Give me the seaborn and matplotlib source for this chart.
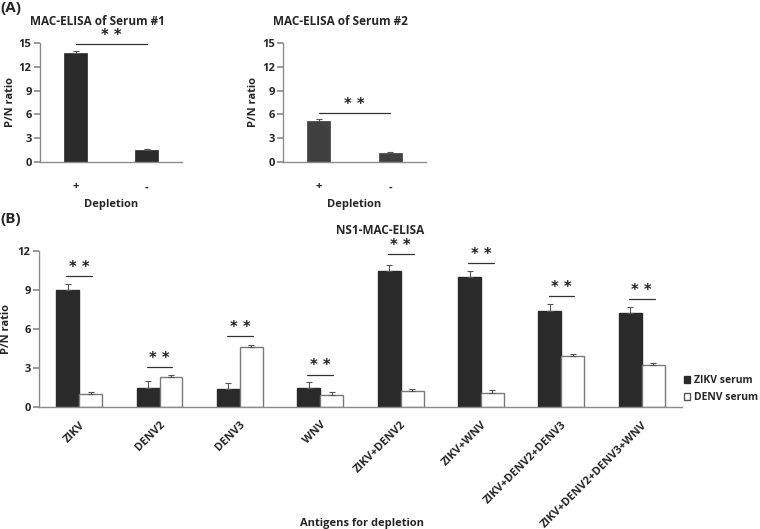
import numpy as np
import pandas as pd
import seaborn as sns
import matplotlib.pyplot as plt
from matplotlib.patches import Patch

# panel A data
depletion = ["+", "-"]
serum1_vals = [13.75, 1.45]
serum1_err = [0.25, 0.15]
serum2_vals = [5.2, 1.1]
serum2_err = [0.2, 0.2]
sig_a = [14.9, 6.2]

# panel B data
antigens = ["ZIKV", "DENV2", "DENV3", "WNV", "ZIKV+DENV2", "ZIKV+WNV",
            "ZIKV+DENV2+DENV3", "ZIKV+DENV2+DENV3+WNV"]
zikv_vals = [9.0, 1.5, 1.35, 1.45, 10.45, 10.0, 7.4, 7.25]
zikv_err = [0.5, 0.5, 0.5, 0.5, 0.5, 0.5, 0.5, 0.45]
denv_vals = [0.97, 2.3, 4.6, 0.95, 1.2, 1.1, 3.9, 3.2]
denv_err = [0.2, 0.2, 0.15, 0.2, 0.15, 0.18, 0.18, 0.2]
sig_b = [10.1, 3.05, 5.45, 2.5, 11.8, 11.1, 8.55, 8.3]
sera = ["ZIKV serum", "DENV serum"]

sns.set_theme(style="white")
plt.rcParams['font.family'] = ['Open Sans', 'DejaVu Sans']
plt.rcParams['font.weight'] = 'bold'

fig = plt.figure(figsize=(7.6, 5.29), dpi=100)
ax1 = fig.add_axes([0.0526, 0.6938, 0.187, 0.225])
ax2 = fig.add_axes([0.3724, 0.6938, 0.188, 0.225])
ax3 = fig.add_axes([0.0513, 0.2306, 0.846, 0.2949])

spine_c = "#8c8c8c"
fs = 8


def style_ax(ax):
    for s in ["top", "right"]:
        ax.spines[s].set_visible(False)
    for s in ["left", "bottom"]:
        ax.spines[s].set_color(spine_c)
        ax.spines[s].set_linewidth(1.0)
    ax.tick_params(axis="y", left=True, length=4, color=spine_c, labelsize=fs, pad=2)
    ax.tick_params(axis="x", bottom=False, labelsize=fs)
    for lab in ax.get_yticklabels() + ax.get_xticklabels():
        lab.set_fontweight("bold")


def sig(ax, x0, x1, y, dy):
    ax.plot([x0, x1], [y, y], color="#333333", lw=0.9)
    ax.text((x0 + x1) / 2, y + dy, "* *", ha="center", va="bottom",
            fontsize=10.5, fontweight="bold", color="#222222", family="DejaVu Sans")


# panel A
for ax, vals, err, col, title, s in [
        (ax1, serum1_vals, serum1_err, "#2b2b2b", "MAC-ELISA of Serum #1", sig_a[0]),
        (ax2, serum2_vals, serum2_err, "#404040", "MAC-ELISA of Serum #2", sig_a[1])]:
    df = pd.DataFrame({"Depletion": depletion, "ratio": vals})
    sns.barplot(data=df, x="Depletion", y="ratio", color=col, width=0.32,
                edgecolor=col, linewidth=0.5, ax=ax, saturation=1)
    ax.errorbar([0, 1], vals, yerr=[np.zeros(2), err], fmt="none",
                ecolor="#555555", elinewidth=0.8, capsize=2, capthick=0.8)
    ax.set_xlim(-0.5, 1.5)
    ax.set_ylim(0, 15)
    ax.set_yticks([0, 3, 6, 9, 12, 15])
    ax.set_ylabel("P/N ratio", fontsize=fs, fontweight="bold", labelpad=2)
    ax.set_xlabel("Depletion", fontsize=fs, fontweight="bold", labelpad=5)
    ax.set_title(title, fontsize=8.5, fontweight="bold", loc="left", x=-0.07, pad=13)
    style_ax(ax)
    ax.tick_params(axis="x", pad=8)
    sig(ax, 0.0, 1.0, s, 0.1)

# panel B
dfb = pd.DataFrame({
    "antigen": antigens * 2,
    "serum": [sera[0]] * len(antigens) + [sera[1]] * len(antigens),
    "ratio": zikv_vals + denv_vals,
})
sns.barplot(data=dfb, x="antigen", y="ratio", hue="serum",
            palette={sera[0]: "#2a2a2a", sera[1]: "white"}, width=0.57,
            saturation=1, ax=ax3, legend=False)
for i, bar in enumerate(ax3.patches[:len(antigens) * 2]):
    if i >= len(antigens):
        bar.set_edgecolor("#7a7a7a")
        bar.set_linewidth(1.0)
    else:
        bar.set_edgecolor("#2a2a2a")
xs = np.arange(len(antigens))
ax3.errorbar(xs - 0.1425, zikv_vals, yerr=[np.zeros(len(xs)), zikv_err], fmt="none",
             ecolor="#555555", elinewidth=0.8, capsize=2, capthick=0.8)
ax3.errorbar(xs + 0.1425, denv_vals, yerr=[np.zeros(len(xs)), denv_err], fmt="none",
             ecolor="#555555", elinewidth=0.8, capsize=2, capthick=0.8)
for i, s in enumerate(sig_b):
    sig(ax3, i - 0.16, i + 0.16, s, 0.08)
ax3.set_xlim(-0.5, len(antigens) - 0.5)
ax3.set_ylim(0, 12)
ax3.set_yticks([0, 3, 6, 9, 12])
ax3.set_ylabel("P/N ratio", fontsize=fs, fontweight="bold", labelpad=4)
ax3.set_xlabel("")
ax3.set_xticks(xs)
ax3.set_xticklabels(antigens, rotation=45, ha="right", rotation_mode="anchor",
                    fontsize=6.3)
style_ax(ax3)
ax3.tick_params(axis="x", pad=3)
ax3.set_title("NS1-MAC-ELISA", fontsize=8.5, fontweight="bold", x=0.53, pad=12)

# legend
handles = [Patch(facecolor="#2a2a2a", edgecolor="#2a2a2a", label=sera[0]),
           Patch(facecolor="white", edgecolor="#555555", label=sera[1])]
fig.legend(handles=handles, loc="center left", bbox_to_anchor=(0.893, 0.264),
           frameon=False, handlelength=0.6, handleheight=0.6,
           handletextpad=0.4, labelspacing=0.6, borderpad=0,
           prop={"weight": "bold", "size": 7.5})

fig.text(0.476, 0.011, "Antigens for depletion", ha="center", va="center",
         fontsize=fs, fontweight="bold")
fig.text(0.0, 0.998, "(A)", ha="left", va="top", fontsize=11, fontweight="bold")
fig.text(0.0, 0.6, "(B)", ha="left", va="top", fontsize=11, fontweight="bold")

fig.savefig("out.png", dpi=100)
